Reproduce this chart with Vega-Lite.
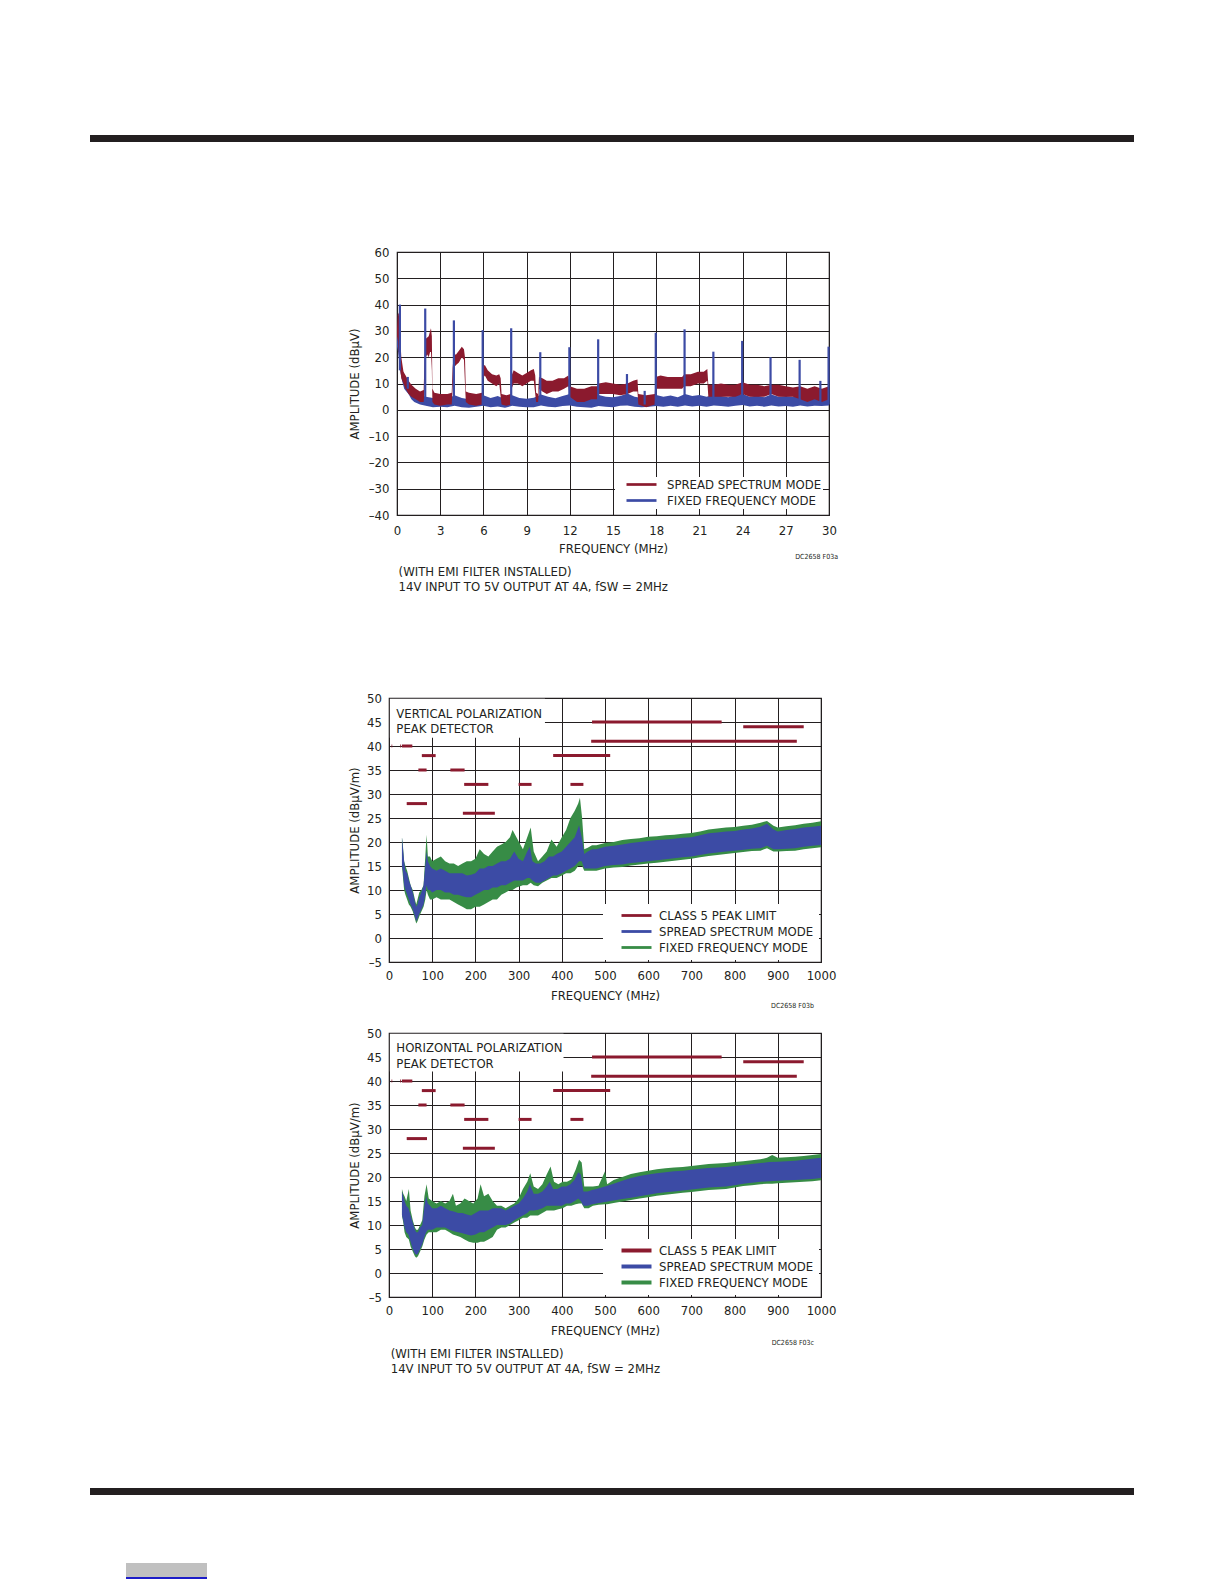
{
  "$schema": "https://vega.github.io/schema/vega-lite/v6.json",
  "background": "white",
  "padding": {"left": 90, "top": 135, "right": 0, "bottom": 0},
  "config": {
    "font": "DejaVu Sans Condensed, Liberation Sans, sans-serif",
    "view": {"stroke": null},
    "axis": {"grid": true, "gridColor": "#231f20", "gridOpacity": 1, "gridWidth": 1, "domain": false, "ticks": false,
             "labelFontSize": 13, "labelColor": "#231f20", "titleFontSize": 13, "titleColor": "#231f20",
             "titleFontWeight": "normal", "labelFlush": false, "labelOverlap": false, "tickCount": 20},
    "legend": {"fillColor": "white", "labelFontSize": 13, "labelColor": "#231f20", "labelOffset": 28, "symbolOffset": 10,
               "symbolSize": 100, "symbolStrokeWidth": 0, "rowPadding": 2, "labelLimit": 0},
    "title": {"fontSize": 13, "fontWeight": "normal", "color": "#231f20", "lineHeight": 15.3, "anchor": "start",
              "frame": "group", "orient": "bottom", "align": "left"},
    "text": {"color": "#231f20", "fontSize": 13}
  },
  "datasets": {
    "c1_fixed": [
      {"f":0,"lo":24,"hi":31},{"f":0.08,"lo":22,"hi":30},{"f":0.16,"lo":18,"hi":27},{"f":0.25,"lo":14,"hi":20},{"f":0.35,"lo":11,"hi":16},
      {"f":0.5,"lo":8,"hi":13},{"f":0.65,"lo":7,"hi":11},{"f":0.8,"lo":6,"hi":10},{"f":1,"lo":4,"hi":8},{"f":1.2,"lo":3,"hi":7},
      {"f":1.4,"lo":2.5,"hi":6},{"f":1.6,"lo":2,"hi":5.5},{"f":2,"lo":1.5,"hi":5},{"f":2.5,"lo":1,"hi":4.5},{"f":3,"lo":1.2,"hi":5},
      {"f":3.5,"lo":1,"hi":4.2},{"f":4,"lo":1.5,"hi":5.5},{"f":4.5,"lo":1,"hi":4.5},{"f":5,"lo":0.8,"hi":4},{"f":5.5,"lo":1.2,"hi":4.8},
      {"f":6,"lo":1.5,"hi":5.5},{"f":6.5,"lo":1,"hi":4.5},{"f":7,"lo":1.3,"hi":5.2},{"f":7.5,"lo":0.8,"hi":4},{"f":8,"lo":1.5,"hi":5.5},
      {"f":8.5,"lo":1.2,"hi":4.5},{"f":9,"lo":1,"hi":4.2},{"f":9.5,"lo":1,"hi":4.6},{"f":10,"lo":1.6,"hi":5.8},{"f":10.5,"lo":1.2,"hi":5},
      {"f":11,"lo":1,"hi":4.4},{"f":11.5,"lo":1.4,"hi":5.2},{"f":12,"lo":1.6,"hi":6},{"f":12.5,"lo":1.2,"hi":4.6},{"f":13,"lo":1,"hi":4.8},
      {"f":13.5,"lo":0.8,"hi":4.2},{"f":14,"lo":1.4,"hi":5.6},{"f":14.5,"lo":1.2,"hi":5},{"f":15,"lo":1,"hi":4.8},{"f":15.5,"lo":1.5,"hi":5.2},
      {"f":16,"lo":1.6,"hi":6.2},{"f":16.5,"lo":1.2,"hi":5},{"f":17,"lo":1,"hi":4.5},{"f":17.5,"lo":1.2,"hi":5.2},{"f":18,"lo":1.4,"hi":5.6},
      {"f":18.5,"lo":1.2,"hi":5},{"f":19,"lo":1.5,"hi":5.4},{"f":19.5,"lo":1.2,"hi":4.8},{"f":20,"lo":1.6,"hi":6},{"f":20.5,"lo":1.3,"hi":5.2},
      {"f":21,"lo":1.5,"hi":5.6},{"f":21.5,"lo":1.2,"hi":5},{"f":22,"lo":1.6,"hi":5.8},{"f":22.5,"lo":1.4,"hi":5.2},{"f":23,"lo":1.2,"hi":4.8},
      {"f":23.5,"lo":1.5,"hi":5.5},{"f":24,"lo":1.8,"hi":6},{"f":24.5,"lo":1.3,"hi":5},{"f":25,"lo":1.5,"hi":5.4},{"f":25.5,"lo":1.2,"hi":4.8},
      {"f":26,"lo":1.6,"hi":5.8},{"f":26.5,"lo":1.3,"hi":5},{"f":27,"lo":1.4,"hi":5.2},{"f":27.5,"lo":1.2,"hi":5},{"f":28,"lo":1.6,"hi":5.8},
      {"f":28.5,"lo":1.3,"hi":5},{"f":29,"lo":1.5,"hi":5.5},{"f":29.5,"lo":1.4,"hi":5.2},{"f":30,"lo":1.6,"hi":5.8}
    ],
    "c1_spread": [
      {"f":0,"lo":26,"hi":31},{"f":0.05,"lo":28,"hi":36},{"f":0.12,"lo":22,"hi":37},{"f":0.2,"lo":16,"hi":30},{"f":0.3,"lo":12,"hi":20},
      {"f":0.45,"lo":10,"hi":14.5},{"f":0.6,"lo":8,"hi":13},{"f":0.8,"lo":6,"hi":11},{"f":1,"lo":5,"hi":9.5},{"f":1.3,"lo":4,"hi":8},
      {"f":1.6,"lo":3,"hi":7},{"f":1.85,"lo":3,"hi":7.5},{"f":1.92,"lo":8,"hi":20},{"f":2,"lo":20,"hi":27},{"f":2.1,"lo":21,"hi":27.5},
      {"f":2.2,"lo":20,"hi":28},{"f":2.3,"lo":22,"hi":30},{"f":2.36,"lo":22,"hi":31},{"f":2.42,"lo":15,"hi":28},{"f":2.46,"lo":3,"hi":8},
      {"f":2.6,"lo":2,"hi":6.5},{"f":3,"lo":1.5,"hi":6},{"f":3.5,"lo":2,"hi":6},{"f":3.8,"lo":2,"hi":6.5},{"f":3.86,"lo":8,"hi":16},
      {"f":3.95,"lo":16,"hi":21},{"f":4.1,"lo":17,"hi":21},{"f":4.3,"lo":18,"hi":22.5},{"f":4.5,"lo":20,"hi":24},{"f":4.65,"lo":19,"hi":23},
      {"f":4.72,"lo":10,"hi":20},{"f":4.78,"lo":3,"hi":7},{"f":5,"lo":2,"hi":6.5},{"f":5.5,"lo":1.5,"hi":6},{"f":5.9,"lo":2,"hi":6.5},
      {"f":5.96,"lo":12,"hi":16.5},{"f":6.1,"lo":13,"hi":17},{"f":6.3,"lo":11,"hi":15},{"f":6.6,"lo":10,"hi":13.5},{"f":6.9,"lo":9,"hi":13},
      {"f":7.1,"lo":10,"hi":13.5},{"f":7.2,"lo":5,"hi":12},{"f":7.26,"lo":2,"hi":6},{"f":7.6,"lo":1.5,"hi":5.5},{"f":7.9,"lo":2,"hi":6},
      {"f":7.96,"lo":8,"hi":13},{"f":8.1,"lo":10,"hi":15},{"f":8.4,"lo":10,"hi":14},{"f":8.7,"lo":9,"hi":13},{"f":9,"lo":10,"hi":14},
      {"f":9.3,"lo":11,"hi":15},{"f":9.5,"lo":11,"hi":15.5},{"f":9.6,"lo":6,"hi":13},{"f":9.66,"lo":3,"hi":6.5},{"f":9.8,"lo":3,"hi":6},
      {"f":9.86,"lo":8,"hi":12.5},{"f":10.1,"lo":7,"hi":12},{"f":10.4,"lo":6,"hi":11},{"f":10.8,"lo":7,"hi":11},{"f":11.2,"lo":7,"hi":12},
      {"f":11.6,"lo":8,"hi":12},{"f":11.9,"lo":9,"hi":13},{"f":12,"lo":5,"hi":9},{"f":12.5,"lo":3,"hi":8},{"f":13,"lo":3,"hi":8},
      {"f":13.5,"lo":4,"hi":9},{"f":13.9,"lo":4,"hi":9},{"f":14,"lo":6,"hi":10},{"f":14.5,"lo":6,"hi":10.5},{"f":15,"lo":6,"hi":10},
      {"f":15.5,"lo":5.5,"hi":9.5},{"f":16,"lo":6,"hi":10},{"f":16.4,"lo":7,"hi":11},{"f":16.7,"lo":7,"hi":11.5},{"f":16.76,"lo":2,"hi":6},
      {"f":17.3,"lo":1,"hi":5.5},{"f":17.9,"lo":2,"hi":6},{"f":17.96,"lo":8,"hi":12.5},{"f":18.3,"lo":8,"hi":13},{"f":18.8,"lo":8,"hi":12.5},
      {"f":19.3,"lo":8,"hi":12.5},{"f":19.8,"lo":8,"hi":12.5},{"f":19.95,"lo":9,"hi":13.5},{"f":20.4,"lo":9,"hi":13.5},{"f":20.9,"lo":10,"hi":14.5},
      {"f":21.3,"lo":10,"hi":14.5},{"f":21.55,"lo":11,"hi":15.5},{"f":21.62,"lo":5,"hi":9.5},{"f":22,"lo":5,"hi":9.5},{"f":22.5,"lo":5,"hi":10},
      {"f":23,"lo":5,"hi":9.5},{"f":23.5,"lo":5,"hi":9.5},{"f":24,"lo":6,"hi":10.5},{"f":24.5,"lo":5,"hi":9.5},{"f":25,"lo":5,"hi":9.5},
      {"f":25.5,"lo":5,"hi":9},{"f":26,"lo":6,"hi":9.5},{"f":26.5,"lo":5,"hi":9.5},{"f":27,"lo":5,"hi":9},{"f":27.5,"lo":5,"hi":8.5},
      {"f":28,"lo":4,"hi":9},{"f":28.5,"lo":3,"hi":8},{"f":29,"lo":4,"hi":9},{"f":29.5,"lo":3,"hi":8},{"f":30,"lo":4,"hi":9}
    ],
    "c1_spikes": [
      {"f":0.2,"lo":15,"hi":40},{"f":0.75,"lo":8,"hi":12.5},{"f":1.96,"lo":2,"hi":38.5},{"f":3.95,"lo":2,"hi":34},{"f":5.95,"lo":2,"hi":30.3},
      {"f":7.93,"lo":2,"hi":31},{"f":9.95,"lo":2,"hi":21.9},{"f":11.97,"lo":2,"hi":23.8},{"f":13.97,"lo":2,"hi":26.8},{"f":15.97,"lo":2,"hi":13.6},
      {"f":17.2,"lo":2,"hi":7.2},{"f":17.97,"lo":2,"hi":29.3},{"f":19.97,"lo":2,"hi":30.6},{"f":21.97,"lo":2,"hi":22.1},{"f":23.97,"lo":2,"hi":26.2},
      {"f":25.94,"lo":2,"hi":20},{"f":27.96,"lo":2,"hi":19},{"f":29.4,"lo":2,"hi":11},{"f":29.97,"lo":2,"hi":24}
    ],
    "limits": [
      {"from":5.9,"to":7.5,"limit":40},{"from":26,"to":28,"limit":40},{"from":30,"to":54,"limit":40},{"from":41,"to":88,"limit":28},
      {"from":68,"to":87,"limit":35},{"from":76,"to":108,"limit":38},{"from":142,"to":175,"limit":35},{"from":171,"to":245,"limit":26},
      {"from":174,"to":230,"limit":32},{"from":300,"to":330,"limit":32},{"from":380,"to":512,"limit":38},{"from":420,"to":450,"limit":32},
      {"from":468,"to":944,"limit":41},{"from":470,"to":770,"limit":45},{"from":820,"to":960,"limit":44}
    ],
    "c2_spread": [
      {"f":30,"lo":15,"hi":21},{"f":32,"lo":14,"hi":19},{"f":35,"lo":11,"hi":16},{"f":38,"lo":10,"hi":14},{"f":42,"lo":9,"hi":13.5},
      {"f":46,"lo":8,"hi":12},{"f":50,"lo":7,"hi":11},{"f":55,"lo":6,"hi":9.5},{"f":60,"lo":4.5,"hi":7.5},{"f":63,"lo":3.5,"hi":6.5},
      {"f":66,"lo":4,"hi":7},{"f":70,"lo":5,"hi":8.5},{"f":75,"lo":6,"hi":9.5},{"f":80,"lo":7,"hi":11},{"f":84,"lo":9,"hi":15},
      {"f":87,"lo":11,"hi":18},{"f":90,"lo":10,"hi":16},{"f":95,"lo":10,"hi":15},{"f":100,"lo":9.5,"hi":14.5},{"f":110,"lo":10,"hi":14},
      {"f":120,"lo":10,"hi":14.5},{"f":130,"lo":9.5,"hi":14},{"f":140,"lo":9.5,"hi":13.5},{"f":150,"lo":9,"hi":13.5},{"f":160,"lo":9,"hi":13.5},
      {"f":170,"lo":8.7,"hi":13.5},{"f":180,"lo":8.5,"hi":13},{"f":190,"lo":8.5,"hi":13.2},{"f":200,"lo":9,"hi":13.5},{"f":210,"lo":9.5,"hi":14.5},
      {"f":220,"lo":10,"hi":14.5},{"f":230,"lo":10,"hi":15},{"f":240,"lo":10.5,"hi":15},{"f":250,"lo":10.5,"hi":15.5},{"f":260,"lo":11,"hi":16},
      {"f":270,"lo":11,"hi":16},{"f":280,"lo":11.5,"hi":16.5},{"f":290,"lo":12,"hi":18},{"f":300,"lo":12,"hi":16.5},{"f":310,"lo":12,"hi":16},
      {"f":320,"lo":12.5,"hi":18},{"f":326,"lo":12.5,"hi":19},{"f":332,"lo":12,"hi":16},{"f":340,"lo":11.5,"hi":15.5},{"f":350,"lo":11.5,"hi":15.5},
      {"f":360,"lo":12,"hi":16},{"f":370,"lo":12.5,"hi":17},{"f":380,"lo":13,"hi":17},{"f":388,"lo":13,"hi":17.5},{"f":400,"lo":13.5,"hi":18},
      {"f":410,"lo":14,"hi":19},{"f":420,"lo":14.5,"hi":20},{"f":430,"lo":15,"hi":21},{"f":440,"lo":16,"hi":23.5},{"f":446,"lo":16,"hi":21},
      {"f":452,"lo":14.5,"hi":17.5},{"f":460,"lo":14.5,"hi":18},{"f":470,"lo":14.5,"hi":18.5},{"f":480,"lo":14.5,"hi":18.5},{"f":500,"lo":15,"hi":19},
      {"f":520,"lo":15.2,"hi":19.2},{"f":540,"lo":15.3,"hi":19.5},{"f":560,"lo":15.6,"hi":19.8},{"f":580,"lo":15.8,"hi":20},{"f":600,"lo":16,"hi":20.2},
      {"f":620,"lo":16.2,"hi":20.4},{"f":640,"lo":16.4,"hi":20.5},{"f":660,"lo":16.6,"hi":20.7},{"f":680,"lo":16.8,"hi":20.9},{"f":700,"lo":17,"hi":21},
      {"f":720,"lo":17.3,"hi":21.4},{"f":740,"lo":17.6,"hi":21.8},{"f":760,"lo":17.8,"hi":22},{"f":780,"lo":18,"hi":22.2},{"f":800,"lo":18.2,"hi":22.3},
      {"f":820,"lo":18.4,"hi":22.6},{"f":840,"lo":18.6,"hi":22.8},{"f":860,"lo":18.7,"hi":23.2},{"f":875,"lo":19.2,"hi":23.8},{"f":890,"lo":18.5,"hi":22.6},
      {"f":900,"lo":18.5,"hi":22.2},{"f":920,"lo":18.6,"hi":22.5},{"f":940,"lo":18.7,"hi":22.7},{"f":960,"lo":19,"hi":23},{"f":980,"lo":19.2,"hi":23.2},
      {"f":1000,"lo":19.4,"hi":23.4}
    ],
    "c2_fixed": [
      {"f":30,"lo":15,"hi":21},{"f":32,"lo":13,"hi":19.5},{"f":35,"lo":10,"hi":16},{"f":38,"lo":9,"hi":15},{"f":42,"lo":8,"hi":14},
      {"f":46,"lo":7,"hi":12.5},{"f":50,"lo":6.5,"hi":11},{"f":55,"lo":5.5,"hi":10},{"f":60,"lo":4,"hi":8},{"f":63,"lo":3,"hi":7},
      {"f":66,"lo":3.5,"hi":8},{"f":70,"lo":4.5,"hi":9.5},{"f":75,"lo":5.5,"hi":10},{"f":80,"lo":6.5,"hi":11},{"f":84,"lo":8,"hi":17},
      {"f":87,"lo":10,"hi":21.5},{"f":90,"lo":9,"hi":17},{"f":95,"lo":8,"hi":17},{"f":100,"lo":8,"hi":16},{"f":110,"lo":8.5,"hi":16.5},
      {"f":120,"lo":8,"hi":17},{"f":130,"lo":8,"hi":16},{"f":140,"lo":8,"hi":15.5},{"f":150,"lo":7.5,"hi":15.5},{"f":160,"lo":7,"hi":15},
      {"f":170,"lo":6.5,"hi":15.5},{"f":180,"lo":6,"hi":16},{"f":190,"lo":6,"hi":16},{"f":200,"lo":6.5,"hi":16.5},{"f":210,"lo":6.5,"hi":18.5},
      {"f":220,"lo":7,"hi":17.5},{"f":230,"lo":7.5,"hi":17},{"f":240,"lo":8,"hi":18},{"f":250,"lo":8,"hi":19},{"f":260,"lo":9,"hi":19.5},
      {"f":270,"lo":9.5,"hi":20},{"f":280,"lo":10,"hi":21},{"f":286,"lo":10,"hi":22.5},{"f":295,"lo":10.5,"hi":21},{"f":310,"lo":11,"hi":18.5},
      {"f":320,"lo":11,"hi":21},{"f":328,"lo":11.5,"hi":23},{"f":335,"lo":11,"hi":18},{"f":345,"lo":10.8,"hi":16},{"f":355,"lo":11.5,"hi":17},
      {"f":365,"lo":12,"hi":18},{"f":376,"lo":12.5,"hi":20.5},{"f":388,"lo":12.5,"hi":19},{"f":400,"lo":13,"hi":21},{"f":410,"lo":13.5,"hi":22.5},
      {"f":420,"lo":13.5,"hi":25},{"f":430,"lo":14,"hi":26.5},{"f":438,"lo":15,"hi":28},{"f":442,"lo":15,"hi":29.2},{"f":447,"lo":15,"hi":25},
      {"f":452,"lo":14,"hi":18.5},{"f":460,"lo":14,"hi":18.8},{"f":470,"lo":14,"hi":19.3},{"f":480,"lo":14,"hi":19.3},{"f":500,"lo":14.5,"hi":19.8},
      {"f":520,"lo":14.7,"hi":20},{"f":540,"lo":14.8,"hi":20.4},{"f":560,"lo":15.1,"hi":20.6},{"f":580,"lo":15.3,"hi":20.8},{"f":600,"lo":15.5,"hi":21.1},
      {"f":620,"lo":15.7,"hi":21.2},{"f":640,"lo":15.9,"hi":21.4},{"f":660,"lo":16.1,"hi":21.5},{"f":680,"lo":16.3,"hi":21.7},{"f":700,"lo":16.5,"hi":21.9},
      {"f":720,"lo":16.8,"hi":22.2},{"f":740,"lo":17.1,"hi":22.6},{"f":760,"lo":17.3,"hi":22.8},{"f":780,"lo":17.5,"hi":23},{"f":800,"lo":17.7,"hi":23.1},
      {"f":820,"lo":17.9,"hi":23.4},{"f":840,"lo":18.1,"hi":23.6},{"f":860,"lo":18.2,"hi":24},{"f":875,"lo":18.7,"hi":24.4},{"f":890,"lo":18,"hi":23.4},
      {"f":900,"lo":18,"hi":23},{"f":920,"lo":18.1,"hi":23.3},{"f":940,"lo":18.2,"hi":23.5},{"f":960,"lo":18.5,"hi":23.8},{"f":980,"lo":18.7,"hi":24},
      {"f":1000,"lo":18.9,"hi":24.3}
    ],
    "c3_spread": [
      {"f":30,"lo":12,"hi":17},{"f":33,"lo":11,"hi":16},{"f":36,"lo":9.5,"hi":15},{"f":40,"lo":8.5,"hi":14},{"f":45,"lo":8,"hi":13.5},
      {"f":50,"lo":6.5,"hi":12},{"f":55,"lo":5,"hi":10.5},{"f":60,"lo":4,"hi":9},{"f":63,"lo":3.8,"hi":8.5},{"f":67,"lo":4,"hi":8.5},
      {"f":72,"lo":5,"hi":9.5},{"f":77,"lo":6,"hi":10},{"f":82,"lo":7.5,"hi":14},{"f":86,"lo":8.5,"hi":16},{"f":90,"lo":9,"hi":14.5},
      {"f":95,"lo":9,"hi":14},{"f":100,"lo":9,"hi":13.5},{"f":110,"lo":9.5,"hi":13.5},{"f":120,"lo":9.5,"hi":14},{"f":130,"lo":9.5,"hi":13.5},
      {"f":140,"lo":9,"hi":13},{"f":150,"lo":8.7,"hi":12.8},{"f":160,"lo":8.5,"hi":12.5},{"f":170,"lo":8.3,"hi":12.5},{"f":180,"lo":8,"hi":12.2},
      {"f":190,"lo":7.8,"hi":12},{"f":200,"lo":8,"hi":12.5},{"f":210,"lo":8.5,"hi":13},{"f":220,"lo":8.5,"hi":13},{"f":230,"lo":9,"hi":13},
      {"f":240,"lo":9.5,"hi":13.5},{"f":250,"lo":10,"hi":13.5},{"f":260,"lo":10,"hi":13.5},{"f":270,"lo":10,"hi":13},{"f":280,"lo":10.3,"hi":13.5},
      {"f":290,"lo":11,"hi":14},{"f":300,"lo":11.5,"hi":14.5},{"f":310,"lo":12,"hi":15.5},{"f":320,"lo":12.5,"hi":17},{"f":326,"lo":13,"hi":18.5},
      {"f":335,"lo":13,"hi":16.5},{"f":345,"lo":13.2,"hi":16.5},{"f":355,"lo":13.5,"hi":17},{"f":365,"lo":14,"hi":18},{"f":372,"lo":14,"hi":19},
      {"f":380,"lo":14,"hi":17.5},{"f":390,"lo":14,"hi":17.5},{"f":400,"lo":14,"hi":18},{"f":410,"lo":14.5,"hi":18},{"f":420,"lo":14.5,"hi":18.5},
      {"f":430,"lo":15,"hi":19.5},{"f":438,"lo":15.5,"hi":21},{"f":444,"lo":15,"hi":20.5},{"f":450,"lo":14,"hi":17},{"f":460,"lo":14,"hi":17},
      {"f":470,"lo":14.3,"hi":17.3},{"f":480,"lo":14.5,"hi":17.5},{"f":500,"lo":14.8,"hi":18},{"f":520,"lo":15.1,"hi":18.6},{"f":540,"lo":15.4,"hi":19.2},
      {"f":560,"lo":15.7,"hi":19.8},{"f":580,"lo":16,"hi":20.2},{"f":600,"lo":16.3,"hi":20.5},{"f":620,"lo":16.6,"hi":20.8},{"f":640,"lo":16.8,"hi":21},
      {"f":660,"lo":17,"hi":21.2},{"f":680,"lo":17.2,"hi":21.3},{"f":700,"lo":17.4,"hi":21.5},{"f":720,"lo":17.6,"hi":21.7},{"f":740,"lo":17.8,"hi":21.9},
      {"f":760,"lo":17.9,"hi":22},{"f":780,"lo":18,"hi":22.1},{"f":800,"lo":18.3,"hi":22.3},{"f":820,"lo":18.6,"hi":22.5},{"f":840,"lo":18.8,"hi":22.7},
      {"f":860,"lo":19,"hi":22.9},{"f":880,"lo":19.1,"hi":23.1},{"f":900,"lo":19.2,"hi":23.2},{"f":920,"lo":19.3,"hi":23.3},{"f":940,"lo":19.4,"hi":23.4},
      {"f":960,"lo":19.5,"hi":23.6},{"f":980,"lo":19.6,"hi":23.8},{"f":1000,"lo":19.8,"hi":24}
    ],
    "c3_fixed": [
      {"f":30,"lo":12,"hi":17.5},{"f":33,"lo":10.5,"hi":16.5},{"f":36,"lo":8.5,"hi":16},{"f":40,"lo":7.5,"hi":15},{"f":46,"lo":7,"hi":17.5},
      {"f":50,"lo":5.5,"hi":13},{"f":55,"lo":4.5,"hi":11},{"f":60,"lo":3.5,"hi":9.5},{"f":63,"lo":3.2,"hi":9},{"f":67,"lo":3.5,"hi":9},
      {"f":72,"lo":4.5,"hi":10},{"f":77,"lo":5.5,"hi":11},{"f":82,"lo":7,"hi":16},{"f":87,"lo":8,"hi":18.5},{"f":92,"lo":8.5,"hi":15.5},
      {"f":100,"lo":8.5,"hi":15},{"f":110,"lo":8.5,"hi":14.5},{"f":120,"lo":9,"hi":15},{"f":130,"lo":9,"hi":14.5},{"f":140,"lo":8.5,"hi":15},
      {"f":148,"lo":8,"hi":16.5},{"f":155,"lo":7.8,"hi":14},{"f":165,"lo":7.5,"hi":14.5},{"f":175,"lo":7,"hi":15.5},{"f":185,"lo":6.5,"hi":15},
      {"f":195,"lo":6.3,"hi":14.5},{"f":205,"lo":6.3,"hi":15.5},{"f":212,"lo":6.5,"hi":18.5},{"f":220,"lo":6.5,"hi":16},{"f":230,"lo":7,"hi":16.5},
      {"f":240,"lo":7.5,"hi":15},{"f":250,"lo":9,"hi":14},{"f":260,"lo":9.5,"hi":14},{"f":270,"lo":9.5,"hi":13.5},{"f":280,"lo":10,"hi":14},
      {"f":290,"lo":10.5,"hi":14.5},{"f":300,"lo":11,"hi":15.5},{"f":310,"lo":11.5,"hi":17.5},{"f":320,"lo":11.5,"hi":19},{"f":327,"lo":12,"hi":20.8},
      {"f":335,"lo":12,"hi":18},{"f":345,"lo":12,"hi":17.5},{"f":355,"lo":12.5,"hi":18.5},{"f":365,"lo":13,"hi":20.5},{"f":374,"lo":13,"hi":22.2},
      {"f":382,"lo":13,"hi":19},{"f":392,"lo":13.3,"hi":18.5},{"f":402,"lo":13.5,"hi":19},{"f":412,"lo":14,"hi":19},{"f":422,"lo":14,"hi":19.5},
      {"f":432,"lo":14.3,"hi":21.5},{"f":440,"lo":14.5,"hi":23.6},{"f":446,"lo":14.5,"hi":23},{"f":452,"lo":13.5,"hi":18},{"f":462,"lo":13.5,"hi":18},
      {"f":472,"lo":14,"hi":18},{"f":485,"lo":14.2,"hi":18.2},{"f":500,"lo":14.3,"hi":21.2},{"f":505,"lo":14.3,"hi":18.5},{"f":520,"lo":14.6,"hi":19.4},
      {"f":540,"lo":14.9,"hi":20},{"f":560,"lo":15.2,"hi":20.6},{"f":580,"lo":15.5,"hi":21},{"f":600,"lo":15.8,"hi":21.3},{"f":620,"lo":16.1,"hi":21.6},
      {"f":640,"lo":16.3,"hi":21.8},{"f":660,"lo":16.5,"hi":22},{"f":680,"lo":16.7,"hi":22.1},{"f":700,"lo":16.9,"hi":22.3},{"f":720,"lo":17.1,"hi":22.5},
      {"f":740,"lo":17.3,"hi":22.7},{"f":760,"lo":17.4,"hi":22.8},{"f":780,"lo":17.5,"hi":22.9},{"f":800,"lo":17.8,"hi":23.1},{"f":820,"lo":18.1,"hi":23.3},
      {"f":840,"lo":18.3,"hi":23.5},{"f":860,"lo":18.5,"hi":23.7},{"f":875,"lo":18.6,"hi":24},{"f":887,"lo":18.6,"hi":24.6},{"f":900,"lo":18.7,"hi":24},
      {"f":920,"lo":18.8,"hi":24.1},{"f":940,"lo":18.9,"hi":24.2},{"f":960,"lo":19,"hi":24.4},{"f":980,"lo":19.1,"hi":24.6},{"f":1000,"lo":19.3,"hi":24.8}
    ]
  },
  "columns": 2,
  "spacing": 0,
  "bounds": "flush",
  "align": "each",
  "resolve": {"scale": {"x": "independent", "y": "independent", "color": "independent"},
              "axis": {"x": "independent", "y": "independent"}, "legend": {"color": "independent"}},
  "concat": [
    {"width": 1044, "height": 7, "data": {"values": []}, "mark": "point", "view": {"fill": "#231f20", "stroke": null}},
    {"width": 1, "height": 7, "data": {"values": []}, "mark": "point"},
    {"width": 1, "height": 110, "data": {"values": []}, "mark": "point"},
    {"width": 1, "height": 110, "data": {"values": []}, "mark": "point"},
    {
      "spacing": 0, "bounds": "flush",
      "resolve": {"scale": {"color": "independent"}, "legend": {"color": "independent"}},
      "hconcat": [
        {"width": 307, "height": 1, "data": {"values": []}, "mark": "point"},
        {
          "width": 432, "height": 263,
          "view": {"stroke": "#231f20", "strokeWidth": 1.2},
          "title": {"text": ["(WITH EMI FILTER INSTALLED)", "14V INPUT TO 5V OUTPUT AT 4A, fSW = 2MHz"], "offset": 6, "dx": 1.6},
          "layer": [
            {
              "data": {"name": "c1_fixed"},
              "mark": {"type": "area"},
              "encoding": {
                "x": {"field": "f", "type": "quantitative", "scale": {"domain": [0, 30], "nice": false, "zero": false},
                      "axis": {"values": [0,3,6,9,12,15,18,21,24,27,30], "format": "d", "title": "FREQUENCY (MHz)", "labelPadding": 9, "titlePadding": 5}},
                "y": {"field": "lo", "type": "quantitative", "scale": {"domain": [-40, 60], "nice": false, "zero": false},
                      "axis": {"values": [-40,-30,-20,-10,0,10,20,30,40,50,60], "title": "AMPLITUDE (dBµV)", "labelPadding": 8, "titlePadding": 7,
                               "labelExpr": "replace(datum.label, '−', '–')"}},
                "y2": {"field": "hi"},
                "color": {"datum": "FIXED FREQUENCY MODE",
                          "scale": {"domain": ["SPREAD SPECTRUM MODE", "FIXED FREQUENCY MODE"], "range": ["#8b1a2e", "#3c4ba5"]},
                          "legend": {"title": null, "orient": "bottom-right", "offset": 6, "padding": 1, "symbolType": "M-1.2,-0.27H4.8V0.27H-1.2Z"}}
              }
            },
            {
              "data": {"name": "c1_spread"},
              "mark": {"type": "area"},
              "encoding": {
                "x": {"field": "f", "type": "quantitative", "scale": {"domain": [0, 30], "nice": false, "zero": false}},
                "y": {"field": "lo", "type": "quantitative", "scale": {"domain": [-40, 60], "nice": false, "zero": false}},
                "y2": {"field": "hi"},
                "color": {"datum": "SPREAD SPECTRUM MODE"}
              }
            },
            {
              "data": {"name": "c1_spikes"},
              "mark": {"type": "rule", "color": "#3c4ba5", "strokeWidth": 2.2},
              "encoding": {
                "x": {"field": "f", "type": "quantitative", "scale": {"domain": [0, 30], "nice": false, "zero": false}},
                "y": {"field": "lo", "type": "quantitative", "scale": {"domain": [-40, 60], "nice": false, "zero": false}},
                "y2": {"field": "hi"}
              }
            },
            {
              "data": {"values": [{"code": "DC2658 F03a"}]},
              "mark": {"type": "text", "align": "right", "baseline": "middle", "fontSize": 7, "dx": 9},
              "encoding": {
                "x": {"datum": 30, "scale": {"domain": [0, 30], "nice": false, "zero": false}},
                "y": {"datum": -56, "scale": {"domain": [-40, 60], "nice": false, "zero": false}},
                "text": {"field": "code"}
              }
            }
          ]
        }
      ]
    },
    {"width": 1, "height": 263, "data": {"values": []}, "mark": "point"},
    {"width": 1, "height": 183, "data": {"values": []}, "mark": "point"},
    {"width": 1, "height": 183, "data": {"values": []}, "mark": "point"},
    {
      "spacing": 0, "bounds": "flush",
      "resolve": {"scale": {"color": "independent"}, "legend": {"color": "independent"}},
      "hconcat": [
        {"width": 299, "height": 1, "data": {"values": []}, "mark": "point"},
        {
          "width": 432, "height": 264,
          "view": {"stroke": "#231f20", "strokeWidth": 1.2},
          "layer": [
            {
              "data": {"values": [{"box": "label"}]},
              "mark": {"type": "rect", "color": "white"},
              "encoding": {
                "x": {"datum": 2, "scale": {"domain": [0, 1000], "nice": false, "zero": false}},
                "x2": {"datum": 361},
                "y": {"datum": 41.7, "scale": {"domain": [-5, 50], "nice": false, "zero": false}},
                "y2": {"datum": 49.85}
              }
            },
            {
              "data": {"name": "c2_fixed"},
              "mark": {"type": "area"},
              "encoding": {
                "x": {"field": "f", "type": "quantitative", "scale": {"domain": [0, 1000], "nice": false, "zero": false},
                      "axis": {"values": [0,100,200,300,400,500,600,700,800,900,1000], "format": "d", "title": "FREQUENCY (MHz)", "labelPadding": 7, "titlePadding": 7}},
                "y": {"field": "lo", "type": "quantitative", "scale": {"domain": [-5, 50], "nice": false, "zero": false},
                      "axis": {"values": [-5,0,5,10,15,20,25,30,35,40,45,50], "title": "AMPLITUDE (dBµV/m)", "labelPadding": 7.5, "titlePadding": 5,
                               "labelExpr": "replace(datum.label, '−', '–')"}},
                "y2": {"field": "hi"},
                "color": {"datum": "FIXED FREQUENCY MODE",
                          "scale": {"domain": ["CLASS 5 PEAK LIMIT", "SPREAD SPECTRUM MODE", "FIXED FREQUENCY MODE"], "range": ["#8b1a2e", "#3c4ba5", "#378c46"]},
                          "legend": {"title": null, "orient": "bottom-right", "offset": 2, "padding": 5, "symbolType": "M-0.6,-0.28H5.4V0.28H-0.6Z"}}
              }
            },
            {
              "data": {"name": "c2_spread"},
              "mark": {"type": "area"},
              "encoding": {
                "x": {"field": "f", "type": "quantitative", "scale": {"domain": [0, 1000], "nice": false, "zero": false}},
                "y": {"field": "lo", "type": "quantitative", "scale": {"domain": [-5, 50], "nice": false, "zero": false}},
                "y2": {"field": "hi"},
                "color": {"datum": "SPREAD SPECTRUM MODE"}
              }
            },
            {
              "data": {"name": "limits"},
              "mark": {"type": "rule", "color": "#8b1a2e", "strokeWidth": 3, "strokeCap": "butt"},
              "encoding": {
                "x": {"field": "from", "type": "quantitative", "scale": {"domain": [0, 1000], "nice": false, "zero": false}},
                "x2": {"field": "to"},
                "y": {"field": "limit", "type": "quantitative", "scale": {"domain": [-5, 50], "nice": false, "zero": false}}
              }
            },
            {
              "data": {"values": [{"label": "VERTICAL POLARIZATION\nPEAK DETECTOR"}]},
              "mark": {"type": "text", "align": "left", "baseline": "middle", "lineBreak": "\n", "lineHeight": 15.6, "fontSize": 13},
              "encoding": {
                "x": {"datum": 17, "scale": {"domain": [0, 1000], "nice": false, "zero": false}},
                "y": {"datum": 46.7, "scale": {"domain": [-5, 50], "nice": false, "zero": false}},
                "text": {"field": "label"}
              }
            },
            {
              "data": {"values": [{"code": "DC2658 F03b"}]},
              "mark": {"type": "text", "align": "right", "baseline": "middle", "fontSize": 7, "dx": -7},
              "encoding": {
                "x": {"datum": 1000, "scale": {"domain": [0, 1000], "nice": false, "zero": false}},
                "y": {"datum": -14.25, "scale": {"domain": [-5, 50], "nice": false, "zero": false}},
                "text": {"field": "code"}
              }
            }
          ]
        }
      ]
    },
    {"width": 1, "height": 264, "data": {"values": []}, "mark": "point"},
    {"width": 1, "height": 71, "data": {"values": []}, "mark": "point"},
    {"width": 1, "height": 71, "data": {"values": []}, "mark": "point"},
    {
      "spacing": 0, "bounds": "flush",
      "resolve": {"scale": {"color": "independent"}, "legend": {"color": "independent"}},
      "hconcat": [
        {"width": 299, "height": 1, "data": {"values": []}, "mark": "point"},
        {
          "width": 432, "height": 264,
          "view": {"stroke": "#231f20", "strokeWidth": 1.2},
          "title": {"text": ["(WITH EMI FILTER INSTALLED)", "14V INPUT TO 5V OUTPUT AT 4A, fSW = 2MHz"], "offset": 2, "dx": 1.7},
          "layer": [
            {
              "data": {"values": [{"box": "label"}]},
              "mark": {"type": "rect", "color": "white"},
              "encoding": {
                "x": {"datum": 2, "scale": {"domain": [0, 1000], "nice": false, "zero": false}},
                "x2": {"datum": 404},
                "y": {"datum": 42, "scale": {"domain": [-5, 50], "nice": false, "zero": false}},
                "y2": {"datum": 49.85}
              }
            },
            {
              "data": {"name": "c3_fixed"},
              "mark": {"type": "area"},
              "encoding": {
                "x": {"field": "f", "type": "quantitative", "scale": {"domain": [0, 1000], "nice": false, "zero": false},
                      "axis": {"values": [0,100,200,300,400,500,600,700,800,900,1000], "format": "d", "title": "FREQUENCY (MHz)", "labelPadding": 7, "titlePadding": 7}},
                "y": {"field": "lo", "type": "quantitative", "scale": {"domain": [-5, 50], "nice": false, "zero": false},
                      "axis": {"values": [-5,0,5,10,15,20,25,30,35,40,45,50], "title": "AMPLITUDE (dBµV/m)", "labelPadding": 7.5, "titlePadding": 5,
                               "labelExpr": "replace(datum.label, '−', '–')"}},
                "y2": {"field": "hi"},
                "color": {"datum": "FIXED FREQUENCY MODE",
                          "scale": {"domain": ["CLASS 5 PEAK LIMIT", "SPREAD SPECTRUM MODE", "FIXED FREQUENCY MODE"], "range": ["#8b1a2e", "#3c4ba5", "#378c46"]},
                          "legend": {"title": null, "orient": "bottom-right", "offset": 2, "padding": 5, "symbolType": "M-0.6,-0.4H5.4V0.4H-0.6Z"}}
              }
            },
            {
              "data": {"name": "c3_spread"},
              "mark": {"type": "area"},
              "encoding": {
                "x": {"field": "f", "type": "quantitative", "scale": {"domain": [0, 1000], "nice": false, "zero": false}},
                "y": {"field": "lo", "type": "quantitative", "scale": {"domain": [-5, 50], "nice": false, "zero": false}},
                "y2": {"field": "hi"},
                "color": {"datum": "SPREAD SPECTRUM MODE"}
              }
            },
            {
              "data": {"name": "limits"},
              "mark": {"type": "rule", "color": "#8b1a2e", "strokeWidth": 3, "strokeCap": "butt"},
              "encoding": {
                "x": {"field": "from", "type": "quantitative", "scale": {"domain": [0, 1000], "nice": false, "zero": false}},
                "x2": {"field": "to"},
                "y": {"field": "limit", "type": "quantitative", "scale": {"domain": [-5, 50], "nice": false, "zero": false}}
              }
            },
            {
              "data": {"values": [{"label": "HORIZONTAL POLARIZATION\nPEAK DETECTOR"}]},
              "mark": {"type": "text", "align": "left", "baseline": "middle", "lineBreak": "\n", "lineHeight": 15.6, "fontSize": 13},
              "encoding": {
                "x": {"datum": 17, "scale": {"domain": [0, 1000], "nice": false, "zero": false}},
                "y": {"datum": 46.85, "scale": {"domain": [-5, 50], "nice": false, "zero": false}},
                "text": {"field": "label"}
              }
            },
            {
              "data": {"values": [{"code": "DC2658 F03c"}]},
              "mark": {"type": "text", "align": "right", "baseline": "middle", "fontSize": 7, "dx": -7},
              "encoding": {
                "x": {"datum": 1000, "scale": {"domain": [0, 1000], "nice": false, "zero": false}},
                "y": {"datum": -14.58, "scale": {"domain": [-5, 50], "nice": false, "zero": false}},
                "text": {"field": "code"}
              }
            }
          ]
        }
      ]
    },
    {"width": 1, "height": 264, "data": {"values": []}, "mark": "point"},
    {"width": 1, "height": 191, "data": {"values": []}, "mark": "point"},
    {"width": 1, "height": 191, "data": {"values": []}, "mark": "point"},
    {"width": 1044, "height": 7, "data": {"values": []}, "mark": "point", "view": {"fill": "#231f20", "stroke": null}},
    {"width": 1, "height": 7, "data": {"values": []}, "mark": "point"},
    {"width": 1, "height": 68, "data": {"values": []}, "mark": "point"},
    {"width": 1, "height": 68, "data": {"values": []}, "mark": "point"},
    {
      "spacing": 0, "bounds": "flush",
      "hconcat": [
        {"width": 36, "height": 1, "data": {"values": []}, "mark": "point"},
        {"width": 81, "height": 14, "data": {"values": []}, "mark": "point", "view": {"fill": "#c0c0c0", "stroke": null}}
      ]
    },
    {"width": 1, "height": 14, "data": {"values": []}, "mark": "point"},
    {
      "spacing": 0, "bounds": "flush",
      "hconcat": [
        {"width": 36, "height": 1, "data": {"values": []}, "mark": "point"},
        {"width": 81, "height": 2, "data": {"values": []}, "mark": "point", "view": {"fill": "#1c1cc8", "stroke": null}}
      ]
    },
    {"width": 1, "height": 2, "data": {"values": []}, "mark": "point"}
  ]
}
